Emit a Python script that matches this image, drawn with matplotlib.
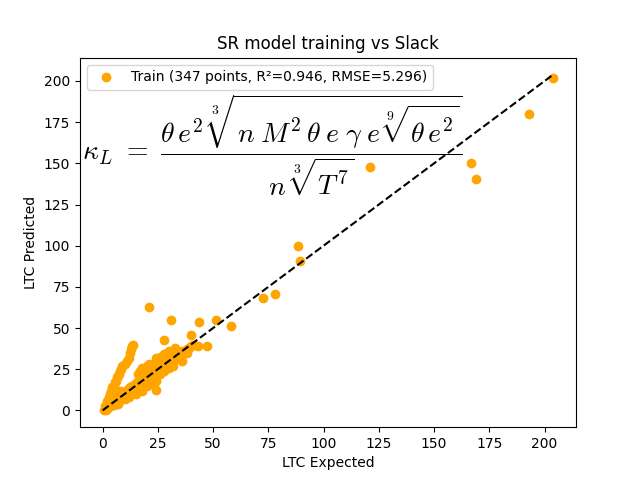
import matplotlib
matplotlib.use('Agg')
import matplotlib.pyplot as plt

# LTC expected vs predicted
ltc_expected = [
    # dense band along the diagonal
    0.5, 1, 1, 1.5, 2, 2, 2.5, 3, 3, 3.5, 4, 4, 4.5, 5, 5, 5.5, 6, 6, 6.5, 7,
    7, 7.5, 8, 8, 8.5, 9, 9, 9.5, 10, 10, 10.5, 11, 11, 11.5, 12, 12, 12.5, 13,
    13, 13.5, 14, 14, 14.5, 15, 15, 15.5, 16, 16, 16.5, 17, 17, 17.5, 18, 18,
    18.5, 19, 19, 19.5, 20, 20, 20.5, 21, 21, 21.5, 22, 22, 22.5, 23, 23, 23.5,
    24, 24, 24.5, 25, 25, 25.5, 26, 26, 27, 27, 28, 28, 29, 29, 30, 30, 31, 31,
    32, 32, 33, 33, 34, 34, 35, 35, 36, 36, 37, 38, 39, 40, 41, 36, 38,
    # group sitting above the line
    16, 17, 18, 19, 20, 21, 22, 23, 24, 25, 26, 27, 28, 29, 30, 31, 32, 33,
    19, 21, 23,
    # steep branch on the left
    2, 3, 3.5, 4, 4.5, 5, 5.5, 6, 6.5, 7, 7.5, 8, 8.5, 9, 10, 11, 12, 12.5,
    13, 13.5, 14, 8, 6,
    # below the line
    5, 7, 10, 12, 15, 18, 20, 24, 24, 26, 28, 30, 32, 22,
    # scattered mid-range points
    21, 31, 43.7, 51.4, 58, 39.9, 27.8, 47.2, 43, 24,
    # large values
    72.7, 78, 88.6, 89.5, 120.8, 166.9, 168.8, 192.9, 204,
]
ltc_predicted = [
    0, 1, 2.5, 0.5, 3, 1, 4, 2, 5, 3, 4.5, 6, 3.5, 5, 7, 4.5, 6, 8, 5, 7,
    4.5, 9, 8, 6.5, 10, 9, 7, 11, 10, 8.5, 12, 11, 9.5, 13, 12, 10, 14, 13,
    11, 15, 14, 12.5, 16, 15, 13, 17, 16, 14.5, 18, 17, 15, 19, 18, 16.5,
    20, 19, 17, 21, 20, 18, 22, 21, 19.5, 23, 22, 20, 24, 23, 21, 25,
    24, 22, 26, 25, 23, 27, 26, 24.5, 27, 25.5, 28, 26.5, 29, 27.5, 30, 28.5, 31, 29,
    32, 30.5, 33, 31.5, 34, 32.5, 35, 33.5, 36, 34, 35.5, 37, 38, 39, 40, 30, 35,
    22, 24, 26, 25, 27, 25, 26, 28, 30, 32, 31, 33, 34, 35, 36, 34, 36, 38,
    23, 28, 26,
    6, 8, 10, 12, 14, 15, 17, 18, 20, 21, 22, 24, 25, 27, 28, 30, 32, 35,
    37, 39, 40, 12, 10,
    3, 4, 7, 8, 10, 12, 15, 12.5, 18, 22, 24, 26, 27, 16,
    62.8, 55, 53.6, 54.8, 51.4, 45.9, 42.7, 39.3, 39, 31.8,
    68.5, 70.9, 99.7, 91, 147.9, 150.5, 140.2, 179.9, 201.8,
]

n_points = 347
r2 = 0.946
rmse = 5.296
formula = (r'$\kappa_L\ =\ \dfrac{\theta\, e^2\ \sqrt[3]{n\; M^2\, \theta\; e\; \gamma\; e\;'
           r'\sqrt[9]{\theta\, e^2}}}{n\ \sqrt[3]{T^7}}$')

plt.rcParams['mathtext.fontset'] = 'cm'

fig, ax = plt.subplots(figsize=(6.4, 4.8), dpi=100)
ax.scatter(ltc_expected, ltc_predicted, color='orange',
           label='Train (%d points, R²=%.3f, RMSE=%.3f)' % (n_points, r2, rmse))
hi = max(ltc_expected)
ax.plot([0, hi], [0, hi], 'k--')

ax.text(0.004, 0.905, formula, transform=ax.transAxes, fontsize=20, va='top', ha='left')

ax.set_title('SR model training vs Slack')
ax.set_xlabel('LTC Expected')
ax.set_ylabel('LTC Predicted')
ax.legend(loc='upper left', scatterpoints=1)

fig.savefig('out.png', dpi=100)
